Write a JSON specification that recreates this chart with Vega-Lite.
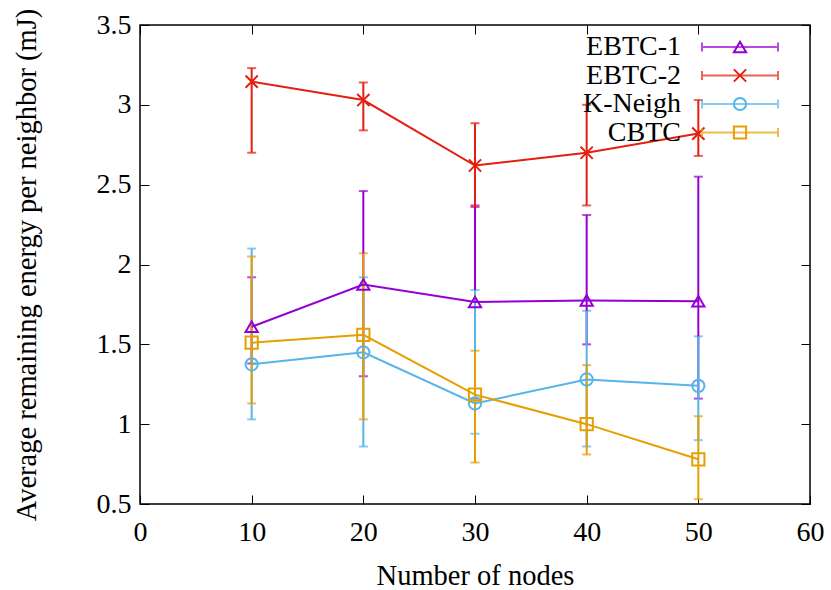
{
  "$schema": "https://vega.github.io/schema/vega-lite/v6.json",
  "width": 670,
  "height": 479,
  "autosize": {"type": "none"},
  "padding": {"left": 140, "top": 25, "right": 21, "bottom": 86},
  "background": "white",
  "config": {
    "view": {"stroke": "black", "strokeWidth": 1.5},
    "font": "Liberation Serif",
    "axis": {
      "grid": false,
      "domain": false,
      "labelFlush": false,
      "tickColor": "black",
      "tickSize": -9,
      "tickWidth": 1,
      "labelFont": "Liberation Serif",
      "labelFontSize": 28,
      "labelColor": "black",
      "titleFont": "Liberation Serif",
      "titleFontSize": 28.5,
      "titleFontWeight": "normal",
      "titleColor": "black"
    },
    "legend": {
      "padding": 0,
      "labelFont": "Liberation Serif",
      "labelFontSize": 28,
      "labelColor": "black",
      "rowPadding": 0.5,
      "symbolStrokeWidth": 2
    }
  },
  "data": {
    "values": [
      {"series": "EBTC-1", "nodes": 10, "value": 1.61, "lo": 1.38, "hi": 1.92},
      {"series": "EBTC-1", "nodes": 20, "value": 1.875, "lo": 1.30, "hi": 2.46},
      {"series": "EBTC-1", "nodes": 30, "value": 1.765, "lo": 1.16, "hi": 2.37},
      {"series": "EBTC-1", "nodes": 40, "value": 1.775, "lo": 1.50, "hi": 2.31},
      {"series": "EBTC-1", "nodes": 50, "value": 1.77, "lo": 1.16, "hi": 2.55},
      {"series": "EBTC-2", "nodes": 10, "value": 3.145, "lo": 2.70, "hi": 3.23},
      {"series": "EBTC-2", "nodes": 20, "value": 3.03, "lo": 2.84, "hi": 3.14},
      {"series": "EBTC-2", "nodes": 30, "value": 2.62, "lo": 2.36, "hi": 2.885},
      {"series": "EBTC-2", "nodes": 40, "value": 2.70, "lo": 2.37, "hi": 3.00},
      {"series": "EBTC-2", "nodes": 50, "value": 2.82, "lo": 2.68, "hi": 3.03},
      {"series": "K-Neigh", "nodes": 10, "value": 1.375, "lo": 1.03, "hi": 2.10},
      {"series": "K-Neigh", "nodes": 20, "value": 1.45, "lo": 0.86, "hi": 1.92},
      {"series": "K-Neigh", "nodes": 30, "value": 1.13, "lo": 0.94, "hi": 1.84},
      {"series": "K-Neigh", "nodes": 40, "value": 1.28, "lo": 0.86, "hi": 1.71},
      {"series": "K-Neigh", "nodes": 50, "value": 1.24, "lo": 0.90, "hi": 1.55},
      {"series": "CBTC", "nodes": 10, "value": 1.51, "lo": 1.13, "hi": 2.05},
      {"series": "CBTC", "nodes": 20, "value": 1.56, "lo": 1.03, "hi": 2.07},
      {"series": "CBTC", "nodes": 30, "value": 1.185, "lo": 0.76, "hi": 1.46},
      {"series": "CBTC", "nodes": 40, "value": 1.00, "lo": 0.81, "hi": 1.37},
      {"series": "CBTC", "nodes": 50, "value": 0.78, "lo": 0.53, "hi": 1.05}
    ]
  },
  "layer": [
    {
      "mark": {"type": "point", "opacity": 0},
      "encoding": {
        "x": {"field": "nodes", "type": "quantitative", "scale": {"domain": [0, 60], "zero": false, "nice": false},
              "axis": {"orient": "top", "labels": false, "title": null, "values": [0, 10, 20, 30, 40, 50, 60]}},
        "y": {"field": "value", "type": "quantitative", "scale": {"domain": [0.5, 3.5], "zero": false, "nice": false},
              "axis": {"orient": "right", "labels": false, "title": null, "values": [0.5, 1, 1.5, 2, 2.5, 3, 3.5]}}
      }
    },
    {
      "mark": {"type": "errorbar", "ticks": {"size": 9}, "thickness": 2},
      "encoding": {
        "x": {"field": "nodes", "type": "quantitative", "scale": {"domain": [0, 60], "zero": false, "nice": false},
              "axis": {"orient": "bottom", "title": "Number of nodes", "values": [0, 10, 20, 30, 40, 50, 60], "labelPadding": 23, "titlePadding": 15}},
        "y": {"field": "lo", "type": "quantitative", "scale": {"domain": [0.5, 3.5], "zero": false, "nice": false},
              "axis": {"orient": "left", "title": "Average remaining energy per neighbor (mJ)", "values": [0.5, 1, 1.5, 2, 2.5, 3, 3.5], "format": "~g", "labelPadding": 18, "titlePadding": 55}},
        "y2": {"field": "hi"},
        "color": {"field": "series", "type": "nominal", "sort": ["EBTC-1", "EBTC-2", "K-Neigh", "CBTC"],
                  "scale": {"range": ["#9400d3", "#e51e10", "#56b4e9", "#e69f00"]},
                  "legend": {"orient": "none", "legendX": 586, "legendY": 8, "title": null,
                             "symbolType": "M-5,0L5,0M-5,-0.6L-5,0.6M5,-0.6L5,0.6", "symbolSize": 231,
                             "labelAlign": "right", "labelOffset": -73}}
      }
    },
    {
      "mark": {"type": "line", "strokeWidth": 2},
      "encoding": {
        "x": {"field": "nodes", "type": "quantitative", "scale": {"domain": [0, 60], "zero": false, "nice": false}, "axis": null},
        "y": {"field": "value", "type": "quantitative", "scale": {"domain": [0.5, 3.5], "zero": false, "nice": false}, "axis": null},
        "color": {"field": "series", "type": "nominal", "sort": ["EBTC-1", "EBTC-2", "K-Neigh", "CBTC"],
                  "legend": {"orient": "none", "legendX": 586, "legendY": 8, "title": null,
                             "symbolType": "M-5,0L5,0M-5,-0.6L-5,0.6M5,-0.6L5,0.6", "symbolSize": 231,
                             "labelAlign": "right", "labelOffset": -73}}
      }
    },
    {
      "mark": {"type": "point", "filled": false, "strokeWidth": 2, "size": 150, "opacity": 1},
      "encoding": {
        "x": {"field": "nodes", "type": "quantitative", "scale": {"domain": [0, 60], "zero": false, "nice": false}, "axis": null},
        "y": {"field": "value", "type": "quantitative", "scale": {"domain": [0.5, 3.5], "zero": false, "nice": false}, "axis": null},
        "shape": {"field": "series", "type": "nominal",
                  "scale": {"domain": ["EBTC-1", "EBTC-2", "K-Neigh", "CBTC"], "range": ["triangle-up", "M-1,-1L1,1M-1,1L1,-1", "circle", "square"]},
                  "legend": {"orient": "none", "legendX": 586, "legendY": 8, "title": null, "labelExpr": "''",
                             "labelAlign": "right", "labelOffset": -60, "symbolSize": 150, "symbolFillColor": "transparent"}},
        "stroke": {"field": "series", "type": "nominal",
                   "scale": {"domain": ["EBTC-1", "EBTC-2", "K-Neigh", "CBTC"], "range": ["#9400d3", "#e51e10", "#56b4e9", "#e69f00"]},
                   "legend": {"orient": "none", "legendX": 586, "legendY": 8, "title": null, "labelExpr": "''",
                             "labelAlign": "right", "labelOffset": -60, "symbolSize": 150, "symbolFillColor": "transparent"}}
      }
    }
  ],
  "resolve": {"axis": {"x": "independent", "y": "independent"}}
}
